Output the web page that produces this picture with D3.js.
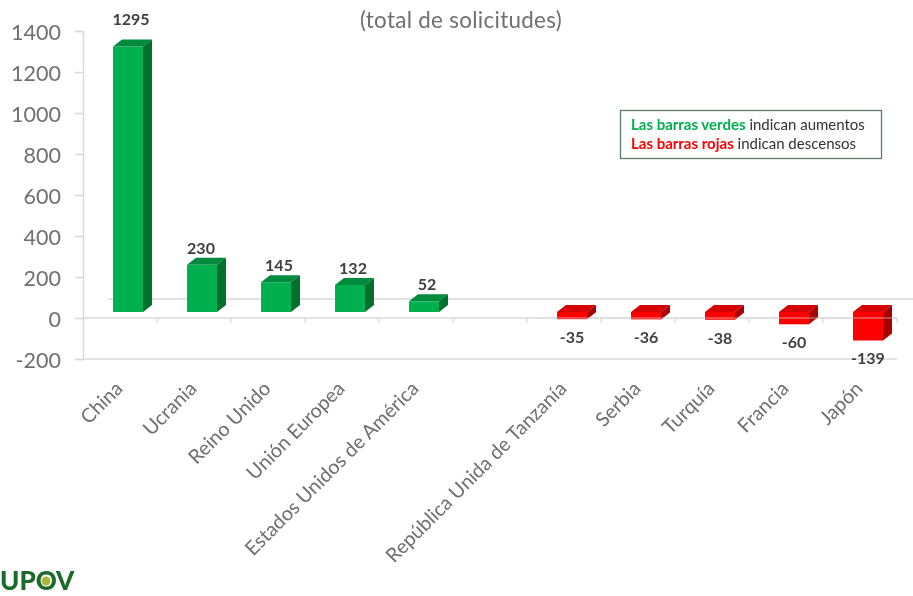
<!DOCTYPE html>
<html><head><meta charset="utf-8">
<script src="https://cdnjs.cloudflare.com/ajax/libs/d3/7.8.5/d3.min.js"></script>
<style>html,body{margin:0;background:#fff}svg{display:block}text{font-family:Lato,"Open Sans",sans-serif}</style>
</head><body><svg id="c" width="913" height="596"></svg>
<script>
const categories=["China","Ucrania","Reino Unido","Unión Europea","Estados Unidos de América","","República Unida de Tanzanía","Serbia","Turquía","Francia","Japón"];
const values=[1295,230,145,132,52,null,-35,-36,-38,-60,-139];
const yTicks=[-200,0,200,400,600,800,1000,1200,1400];
const title="(total de solicitudes)";
const legendGreen=["Las barras verdes"," indican aumentos"];
const legendRed=["Las barras rojas"," indican descensos"];

const W=913,H=596,dx=9,dy=7;
const svg=d3.select("#c");
const defs=svg.append("defs");
defs.append("filter").attr("id","soft").append("feGaussianBlur").attr("stdDeviation",0.45);
const g=svg.append("g").attr("filter","url(#soft)");
const y=d3.scaleLinear().domain([-200,1400]).range([359,31]);
const x=d3.scaleBand().domain(d3.range(categories.length)).range([91,905]).paddingInner(0.595).paddingOuter(0.2975);
// front plane of the 3D box sits below the back-wall axis
const front=v=>y(v)-6;

const grid="#d9d9d9";
g.append("line").attr("x1",108).attr("x2",W).attr("y1",y(0)-19).attr("y2",y(0)-19).attr("stroke",grid).attr("stroke-width",1.5);
const axis=d3.axisLeft(y).tickValues(yTicks).tickSize(8).tickPadding(14).tickFormat(d=>String(d));
const ya=g.append("g").attr("transform","translate(83,0)").call(axis);
ya.select(".domain").attr("stroke",grid).attr("stroke-width",1.5);
ya.selectAll(".tick line").attr("stroke",grid).attr("stroke-width",1.5);
ya.selectAll("text").attr("fill","#6f6f6f").attr("dy","0.4em").style("font-size","21.5px").style("font-family","Lato,sans-serif");
[0,-200].forEach(v=>g.append("line").attr("x1",83).attr("x2",897).attr("y1",y(v)).attr("y2",y(v)).attr("stroke",grid).attr("stroke-width",1.5));
const step=x.step();
g.selectAll(".xt").data(d3.range(1,categories.length+1)).join("line")
 .attr("x1",i=>83+i*step).attr("x2",i=>83+i*step).attr("y1",y(0)).attr("y2",y(0)+5).attr("stroke",grid).attr("stroke-width",1.2);

const colors={pos:["#00b050","#008a3c","#006f2e"],neg:["#ff0000","#d60000","#a80000"]};
const rows=values.map((v,i)=>({v,i,c:categories[i]})).filter(d=>d.v!==null);
const bars=g.selectAll(".bar").data(rows).join("g").attr("class","bar");
bars.each(function(d){
  const s=d3.select(this),c=d.v>0?colors.pos:colors.neg,l=x(d.i),r=l+x.bandwidth();
  const t=front(Math.max(d.v,0)),b=front(Math.min(d.v,0));
  s.append("rect").attr("x",l).attr("y",t).attr("width",x.bandwidth()).attr("height",b-t).attr("fill",c[0]);
  s.append("path").attr("d",`M${l},${t}L${l+dx},${t-dy}H${r+dx}L${r},${t}Z`).attr("fill",c[1]);
  s.append("path").attr("d",`M${r},${t}L${r+dx},${t-dy}V${b-dy}L${r},${b}Z`).attr("fill",c[2]);
});
bars.append("text").attr("text-anchor","middle").attr("font-weight",700).attr("font-size",16).attr("fill","#404040")
 .attr("x",d=>x(d.i)+x.bandwidth()/2+(d.v>0&&d.i!==1?3:d.i===1?-1:0))
 .attr("y",d=>d.v>0?front(d.v)-(d.v>1000?22:11):front(d.v)+24)
 .text(d=>d.v);
// zero line shows through the red boxes
g.append("line").attr("x1",540).attr("x2",897).attr("y1",y(0)).attr("y2",y(0)).attr("stroke",grid).attr("stroke-opacity",.7).attr("stroke-width",1);

g.selectAll(".cat").data(rows).join("text").attr("class","cat")
 .attr("text-anchor","end").attr("fill","#6f6f6f").attr("font-size",19.8)
 .attr("transform",d=>`translate(${x(d.i)+x.bandwidth()/2-9},${y(-200)+26}) rotate(-45)`)
 .attr("dy","0.35em").text(d=>d.c);

g.append("text").attr("x",461).attr("y",28).attr("text-anchor","middle").attr("font-size",22.4).attr("fill","#6f6f6f").attr("letter-spacing",.3).text(title);

g.append("rect").attr("x",620.5).attr("y",110.5).attr("width",261).attr("height",48).attr("fill","#fff").attr("stroke","#5a7d65").attr("stroke-width",1.3);
function legendLine(yy,px,parts,color){
  const t=g.append("text").attr("x",px).attr("y",yy).attr("font-size",15).attr("fill","#333");
  t.append("tspan").attr("font-weight",700).attr("fill",color).text(parts[0]);
  t.append("tspan").text(parts[1]);
}
legendLine(130,631,legendGreen,"#00b050");
legendLine(149,631,legendRed,"#ff0000");

g.append("text").attr("x",0).attr("y",590).attr("font-size",26).attr("font-weight",900).attr("fill","#1c6b2a").text("UPOV");
g.append("circle").attr("cx",46).attr("cy",581).attr("r",4.5).attr("fill","#a8b83a");
</script></body></html>
